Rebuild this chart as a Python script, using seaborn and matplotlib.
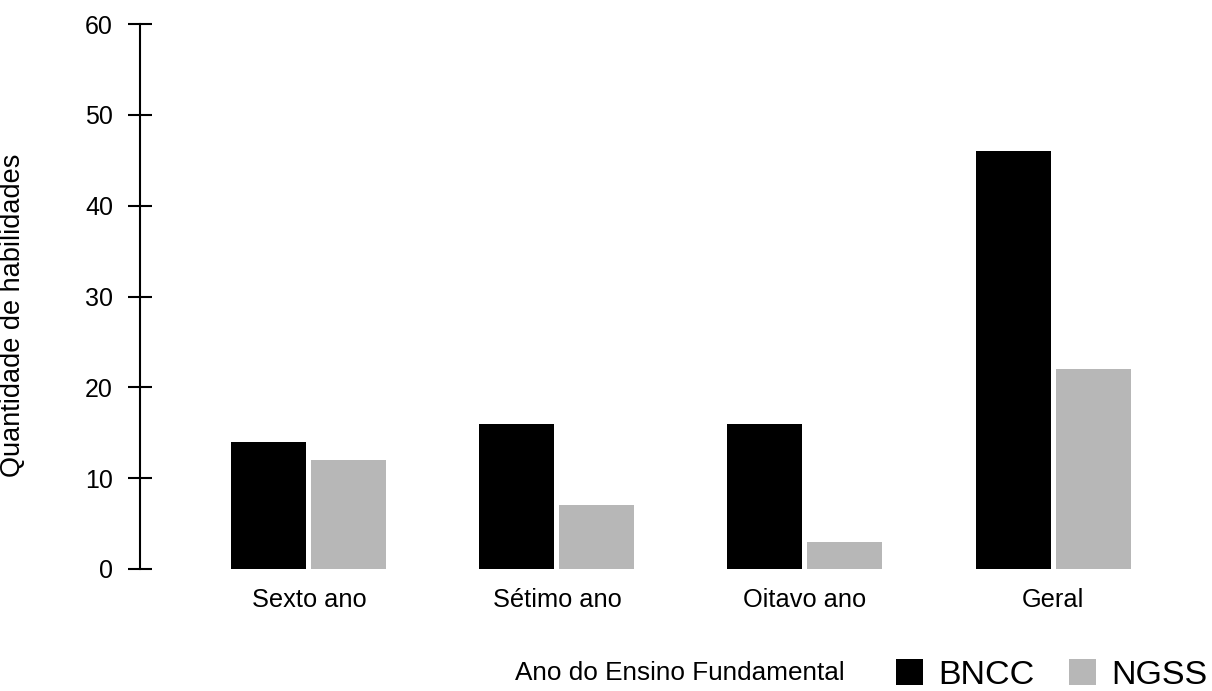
import pandas as pd
import seaborn as sns
import matplotlib.pyplot as plt

anos = ["Sexto ano", "Sétimo ano", "Oitavo ano", "Geral"]
bncc = [14, 16, 16, 46]
ngss = [12, 7, 3, 22]
y_ticks = [0, 10, 20, 30, 40, 50, 60]

cores = {"BNCC": "#000000", "NGSS": "#b7b7b7"}

df = pd.DataFrame({
    "Ano": anos * 2,
    "Quantidade": bncc + ngss,
    "Base": ["BNCC"] * len(anos) + ["NGSS"] * len(anos),
})

sns.set_style("white")
plt.rcParams["font.family"] = ["Liberation Sans", "DejaVu Sans"]
plt.rcParams["text.color"] = "black"
plt.rcParams["axes.labelcolor"] = "black"
plt.rcParams["xtick.color"] = "black"
plt.rcParams["ytick.color"] = "black"

fig = plt.figure(figsize=(12.12, 6.91), dpi=100)
ax = fig.add_axes([140 / 1212, 1 - 569 / 691, 1 - 140 / 1212, (569 - 24) / 691])

sns.barplot(data=df, x="Ano", y="Quantidade", hue="Base", order=anos,
            palette=cores, width=0.645, gap=0.0625, saturation=1,
            linewidth=0, ax=ax)

ax.set_ylim(0, 60)
ax.set_xlim(-0.681, 3.641)
ax.set_yticks(y_ticks)

for s in ["top", "right", "bottom"]:
    ax.spines[s].set_visible(False)
ax.spines["left"].set_linewidth(1.5)
ax.spines["left"].set_color("black")

ax.tick_params(axis="y", direction="inout", length=17, width=1.5,
               labelsize=18, pad=11, left=True)
ax.tick_params(axis="x", length=0, labelsize=18.3, pad=14)

ax.set_xlabel("Ano do Ensino Fundamental", fontsize=18.8)
ax.xaxis.set_label_coords((680 - 140) / (1212 - 140), -(661 - 569) / 545)
ax.set_ylabel("Quantidade de habilidades", fontsize=19.5)
ax.yaxis.set_label_coords(-(140 - 26) / 1072, (569 - 315) / 545)

handles, labels = ax.get_legend_handles_labels()
ax.get_legend().remove()
fig.legend(handles, labels, loc="lower left", bbox_to_anchor=(896 / 1212, 0.0),
           ncol=2, frameon=False, fontsize=24.5, handlelength=0.8,
           handleheight=0.8, handletextpad=0.45, columnspacing=1.0,
           borderpad=0, borderaxespad=0)

fig.savefig("out.png", dpi=100)
